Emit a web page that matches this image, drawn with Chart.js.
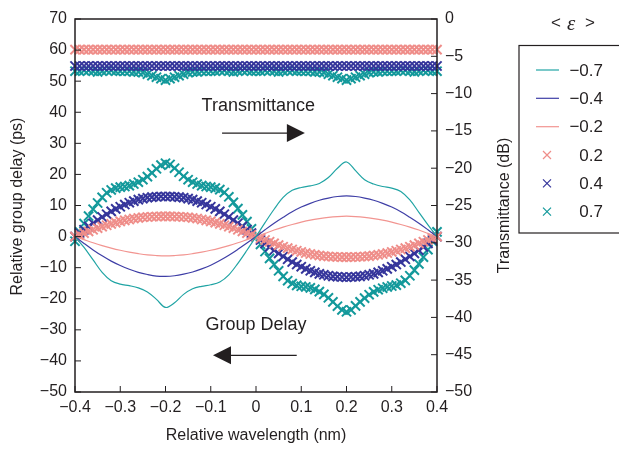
<!DOCTYPE html>
<html>
<head>
<meta charset="utf-8">
<script src="https://cdn.jsdelivr.net/npm/chart.js@4.4.1/dist/chart.umd.min.js"></script>
<style>
  html, body { margin: 0; padding: 0; background: #fff; }
  #mycanvas { display: block; }
</style>
</head>
<body>
<canvas id="mycanvas" width="619" height="449"></canvas>
<script>
// wavelength grid (nm)
const x_fine = [
  -0.40, -0.39, -0.38, -0.37, -0.36, -0.35, -0.34, -0.33, -0.32, -0.31,
  -0.30, -0.29, -0.28, -0.27, -0.26, -0.25, -0.24, -0.23, -0.22, -0.21,
  -0.20, -0.19, -0.18, -0.17, -0.16, -0.15, -0.14, -0.13, -0.12, -0.11,
  -0.10, -0.09, -0.08, -0.07, -0.06, -0.05, -0.04, -0.03, -0.02, -0.01,
  0.00,
  0.01, 0.02, 0.03, 0.04, 0.05, 0.06, 0.07, 0.08, 0.09, 0.10,
  0.11, 0.12, 0.13, 0.14, 0.15, 0.16, 0.17, 0.18, 0.19, 0.20,
  0.21, 0.22, 0.23, 0.24, 0.25, 0.26, 0.27, 0.28, 0.29, 0.30,
  0.31, 0.32, 0.33, 0.34, 0.35, 0.36, 0.37, 0.38, 0.39, 0.40
];
const x_coarse = [
  -0.40, -0.38, -0.36, -0.34, -0.32, -0.30, -0.28, -0.26, -0.24, -0.22,
  -0.20, -0.18, -0.16, -0.14, -0.12, -0.10, -0.08, -0.06, -0.04, -0.02,
  0.00,
  0.02, 0.04, 0.06, 0.08, 0.10, 0.12, 0.14, 0.16, 0.18, 0.20,
  0.22, 0.24, 0.26, 0.28, 0.30, 0.32, 0.34, 0.36, 0.38, 0.40
];

// group delay (ps), negative <eps> drawn as lines
const gd_m07 = [
  0, -3.5, -7.5, -11.5, -14.2, -15.3, -15.8, -16.5, -17.8, -20.2,
  -22.8, -21.3, -18.6, -16.8, -16.0, -15.5, -14.6, -12.3, -8.6, -4.4,
  0,
  4.5, 8.8, 12.6, 14.9, 15.8, 16.3, 17.1, 19.0, 22.0, 24.0,
  21.2, 18.3, 16.9, 16.1, 15.6, 14.5, 11.8, 7.8, 3.8, 0
];
const gd_m04 = [
  0, -2.2, -4.3, -6.2, -7.9, -9.3, -10.5, -11.5, -12.2, -12.7,
  -12.8, -12.6, -12.1, -11.4, -10.4, -9.2, -7.7, -6.0, -4.1, -2.1,
  0,
  2.2, 4.3, 6.2, 8.0, 9.5, 10.7, 11.7, 12.4, 12.9, 13.1,
  12.9, 12.4, 11.7, 10.7, 9.5, 8.0, 6.2, 4.3, 2.2, 0
];
const gd_m02 = [
  0, -1.0, -2.0, -2.9, -3.7, -4.4, -5.0, -5.5, -5.9, -6.1,
  -6.2, -6.1, -5.9, -5.5, -5.0, -4.4, -3.7, -2.9, -2.0, -1.0,
  0,
  1.05, 2.1, 3.05, 3.9, 4.65, 5.3, 5.8, 6.2, 6.45, 6.55,
  6.45, 6.2, 5.8, 5.3, 4.65, 3.9, 3.05, 2.1, 1.05, 0
];

// group delay (ps), positive <eps> drawn as crosses
const gd_p02 = [
  0, 0.55, 1.1, 1.65, 2.2, 2.7, 3.2, 3.65, 4.1, 4.5,
  4.9, 5.2, 5.5, 5.8, 6.0, 6.2, 6.3, 6.4, 6.45, 6.5,
  6.5,
  6.5, 6.45, 6.4, 6.3, 6.2, 6.0, 5.8, 5.5, 5.2, 4.9,
  4.5, 4.1, 3.65, 3.2, 2.7, 2.2, 1.65, 1.1, 0.55, 0,
  -0.55, -1.1, -1.65, -2.2, -2.75, -3.25, -3.7, -4.15, -4.55, -4.95,
  -5.3, -5.6, -5.85, -6.1, -6.3, -6.4, -6.5, -6.55, -6.6, -6.6,
  -6.6, -6.55, -6.5, -6.4, -6.3, -6.1, -5.85, -5.6, -5.3, -4.95,
  -4.55, -4.15, -3.7, -3.25, -2.75, -2.2, -1.65, -1.1, -0.55, 0
];
const gd_p04 = [
  0, 1.1, 2.2, 3.3, 4.3, 5.3, 6.3, 7.2, 8.1, 8.9,
  9.6, 10.3, 10.9, 11.4, 11.9, 12.2, 12.5, 12.7, 12.8, 12.9,
  12.9,
  12.9, 12.8, 12.7, 12.5, 12.2, 11.9, 11.4, 10.9, 10.3, 9.6,
  8.9, 8.1, 7.2, 6.3, 5.3, 4.3, 3.3, 2.2, 1.1, 0,
  -1.1, -2.2, -3.3, -4.4, -5.4, -6.4, -7.3, -8.2, -9.0, -9.7,
  -10.4, -11.0, -11.5, -12.0, -12.3, -12.6, -12.8, -12.9, -13.0, -13.1,
  -13.0, -12.9, -12.8, -12.6, -12.3, -12.0, -11.5, -11.0, -10.4, -9.7,
  -9.0, -8.2, -7.3, -6.4, -5.4, -4.4, -3.3, -2.2, -1.1, 0
];
const gd_p07 = [
  -1.5, 1.5, 4.2, 6.6, 8.8, 10.8, 12.6, 14.1, 15.0, 15.6,
  15.9, 16.1, 16.4, 16.9, 17.5, 18.3, 19.3, 20.5, 21.8, 23.0,
  23.6,
  23.2, 22.0, 20.7, 19.4, 18.3, 17.5, 16.9, 16.4, 16.1, 15.9,
  15.6, 15.1, 14.2, 12.8, 11.0, 9.0, 7.0, 4.8, 2.5, 0,
  -2.5, -4.8, -7.0, -9.0, -11.0, -12.8, -14.2, -15.1, -15.7, -16.0,
  -16.2, -16.5, -17.0, -17.7, -18.6, -19.7, -21.0, -22.4, -23.6, -24.2,
  -23.6, -22.3, -21.0, -19.8, -18.7, -17.8, -17.1, -16.6, -16.2, -15.9,
  -15.6, -15.0, -14.1, -12.6, -10.8, -8.8, -6.6, -4.2, -1.5, 1.5
];

// transmittance (dB)
const tr_02 = [
  -4.1, -4.1, -4.1, -4.1, -4.1, -4.1, -4.1, -4.1, -4.1, -4.1,
  -4.1, -4.1, -4.1, -4.1, -4.1, -4.1, -4.1, -4.1, -4.1, -4.1,
  -4.1, -4.1, -4.1, -4.1, -4.1, -4.1, -4.1, -4.1, -4.1, -4.1,
  -4.1, -4.1, -4.1, -4.1, -4.1, -4.1, -4.1, -4.1, -4.1, -4.1,
  -4.1,
  -4.1, -4.1, -4.1, -4.1, -4.1, -4.1, -4.1, -4.1, -4.1, -4.1,
  -4.1, -4.1, -4.1, -4.1, -4.1, -4.1, -4.1, -4.1, -4.1, -4.1,
  -4.1, -4.1, -4.1, -4.1, -4.1, -4.1, -4.1, -4.1, -4.1, -4.1,
  -4.1, -4.1, -4.1, -4.1, -4.1, -4.1, -4.1, -4.1, -4.1, -4.1
];
const tr_04 = [
  -6.3, -6.3, -6.3, -6.3, -6.3, -6.3, -6.3, -6.3, -6.3, -6.3,
  -6.3, -6.3, -6.3, -6.3, -6.3, -6.3, -6.3, -6.3, -6.3, -6.3,
  -6.3, -6.3, -6.3, -6.3, -6.3, -6.3, -6.3, -6.3, -6.3, -6.3,
  -6.3, -6.3, -6.3, -6.3, -6.3, -6.3, -6.3, -6.3, -6.3, -6.3,
  -6.3,
  -6.3, -6.3, -6.3, -6.3, -6.3, -6.3, -6.3, -6.3, -6.3, -6.3,
  -6.3, -6.3, -6.3, -6.3, -6.3, -6.3, -6.3, -6.3, -6.3, -6.3,
  -6.3, -6.3, -6.3, -6.3, -6.3, -6.3, -6.3, -6.3, -6.3, -6.3,
  -6.3, -6.3, -6.3, -6.3, -6.3, -6.3, -6.3, -6.3, -6.3, -6.3
];
const tr_07 = [
  -7.0, -7.0, -6.9, -6.9, -7.0, -7.1, -7.0, -6.9, -6.9, -7.0,
  -7.0, -7.0, -7.0, -7.1, -7.1, -7.2, -7.4, -7.6, -7.8, -8.0,
  -8.2,
  -8.0, -7.8, -7.6, -7.4, -7.2, -7.1, -7.1, -7.0, -7.0, -7.0,
  -7.0, -6.9, -6.9, -7.0, -7.1, -7.0, -6.9, -6.9, -7.0, -7.0,
  -7.0, -6.9, -6.9, -7.0, -7.1, -7.0, -6.9, -6.9, -7.0, -7.0,
  -7.0, -7.0, -7.1, -7.1, -7.2, -7.4, -7.6, -7.8, -8.0, -8.2,
  -8.0, -7.8, -7.6, -7.4, -7.2, -7.1, -7.1, -7.0, -7.0, -7.0,
  -7.0, -6.9, -6.9, -7.0, -7.1, -7.0, -6.9, -6.9, -7.0, -7.0
];

const legend_labels = ['\u22120.7', '\u22120.4', '\u22120.2', '0.2', '0.4', '0.7'];

const ink = '#231f20';
const teal = '#13999b';
const blue = '#35359b';
const pink = '#ef8d89';
const tealLine = '#20a4a4';
const blueLine = '#3e3ea6';
const pinkLine = '#f29591';

const pts = (xs, ys) => xs.map((x, i) => ({ x: x, y: ys[i] }));
const fmt = v => {
    const r = Math.round(v * 10) / 10;
    return r === 0 ? '0' : String(r).replace('-', '\u2212');
};

function lineSet(data, color) {
    return {
        type: 'line', data: pts(x_coarse, data), yAxisID: 'y',
        borderColor: color, borderWidth: 1.2, pointRadius: 0, tension: 0.35, fill: false
    };
}
function crossSet(data, color, axis) {
    return {
        type: 'line', data: pts(x_fine, data), yAxisID: axis,
        showLine: false, pointStyle: 'crossRot', pointRadius: 6.5,
        borderColor: color, pointBorderColor: color, pointBorderWidth: 2,
        backgroundColor: color, clip: false
    };
}

const overlay = {
    id: 'overlay',
    afterDraw(chart) {
        const { ctx, chartArea: a, scales } = chart;
        const x = scales.x, y = scales.y, y2 = scales.y2;
        ctx.save();
        ctx.strokeStyle = ink;
        ctx.fillStyle = ink;

        // frame
        ctx.lineWidth = 1.5;
        ctx.strokeRect(a.left, a.top, a.right - a.left, a.bottom - a.top);

        // inward tick marks
        ctx.lineWidth = 1;
        ctx.beginPath();
        x.ticks.forEach(t => {
            const px = x.getPixelForValue(t.value);
            ctx.moveTo(px, a.bottom); ctx.lineTo(px, a.bottom - 6);
        });
        y.ticks.forEach(t => {
            const py = y.getPixelForValue(t.value);
            ctx.moveTo(a.left, py); ctx.lineTo(a.left + 6, py);
        });
        y2.ticks.forEach(t => {
            const py = y2.getPixelForValue(t.value);
            ctx.moveTo(a.right, py); ctx.lineTo(a.right - 6, py);
        });
        ctx.stroke();

        // axis titles
        ctx.font = '16px "Liberation Sans", Arial, sans-serif';
        ctx.textAlign = 'center';
        ctx.textBaseline = 'middle';
        ctx.fillText('Relative wavelength (nm)', (a.left + a.right) / 2, 436);
        ctx.save();
        ctx.translate(18, (a.top + a.bottom) / 2 + 1);
        ctx.rotate(-Math.PI / 2);
        ctx.fillText('Relative group delay (ps)', 0, 0);
        ctx.restore();
        ctx.save();
        ctx.translate(505, (a.top + a.bottom) / 2);
        ctx.rotate(-Math.PI / 2);
        ctx.fillText('Transmittance (dB)', 0, 0);
        ctx.restore();

        // annotations with arrows
        ctx.font = '18px "Liberation Sans", Arial, sans-serif';
        ctx.fillText('Transmittance', x.getPixelForValue(0.005), y.getPixelForValue(42));
        ctx.fillText('Group Delay', x.getPixelForValue(0.0), y.getPixelForValue(-28.5));
        const arrow = (x0, x1, yv) => {
            const p0 = x.getPixelForValue(x0), p1 = x.getPixelForValue(x1);
            const py = y.getPixelForValue(yv);
            const dir = Math.sign(p1 - p0);
            ctx.lineWidth = 1.2;
            ctx.beginPath();
            ctx.moveTo(p0, py); ctx.lineTo(p1 - dir * 10, py);
            ctx.stroke();
            ctx.beginPath();
            ctx.moveTo(p1, py);
            ctx.lineTo(p1 - dir * 18, py - 9);
            ctx.lineTo(p1 - dir * 18, py + 9);
            ctx.closePath();
            ctx.fill();
        };
        arrow(-0.075, 0.108, 33.3);
        arrow(0.09, -0.095, -38.2);

        // legend
        ctx.lineWidth = 1.2;
        ctx.strokeRect(519, 45.5, 110, 187.5);
        const rowY = [70, 98.3, 126.7, 155, 183.3, 211.7];
        const rowColor = [tealLine, blueLine, pinkLine, pink, blue, teal];
        ctx.font = '17px "Liberation Sans", Arial, sans-serif';
        ctx.textAlign = 'right';
        rowY.forEach((ry, i) => {
            ctx.strokeStyle = rowColor[i];
            ctx.beginPath();
            if (i < 3) {
                ctx.moveTo(536, ry); ctx.lineTo(559, ry);
            } else {
                ctx.moveTo(543, ry - 4); ctx.lineTo(551, ry + 4);
                ctx.moveTo(543, ry + 4); ctx.lineTo(551, ry - 4);
            }
            ctx.stroke();
            ctx.fillStyle = ink;
            ctx.fillText(legend_labels[i], 603, ry + 1);
        });

        // legend title < eps >
        ctx.textAlign = 'left';
        ctx.fillStyle = ink;
        ctx.font = '17px "Liberation Sans", Arial, sans-serif';
        ctx.fillText('<', 551, 23);
        ctx.fillText('>', 585, 23);
        ctx.font = 'italic 21px "Liberation Serif", "DejaVu Serif", serif';
        ctx.fillText('\u03b5', 567, 24);
        ctx.restore();
    }
};

const mycanvas = document.getElementById('mycanvas').getContext('2d');
const chart = new Chart(mycanvas, {
    data: {
        datasets: [
            lineSet(gd_m07, tealLine),
            lineSet(gd_m04, blueLine),
            lineSet(gd_m02, pinkLine),
            crossSet(gd_p02, pink, 'y'),
            crossSet(gd_p04, blue, 'y'),
            crossSet(gd_p07, teal, 'y'),
            crossSet(tr_02, pink, 'y2'),
            crossSet(tr_04, blue, 'y2'),
            crossSet(tr_07, teal, 'y2')
        ]
    },
    options: {
        responsive: false,
        animation: false,
        devicePixelRatio: 1,
        events: [],
        layout: { padding: { top: 19, left: 0, right: 0, bottom: 0 } },
        plugins: {
            legend: { display: false },
            tooltip: { enabled: false }
        },
        scales: {
            x: {
                type: 'linear', min: -0.4, max: 0.4,
                grid: { display: false, drawTicks: false },
                border: { display: false },
                ticks: {
                    stepSize: 0.1, padding: 6, color: ink, maxRotation: 0,
                    font: { family: 'Liberation Sans', size: 16 },
                    callback: v => fmt(v)
                },
                afterFit: s => { s.height = 57; }
            },
            y: {
                type: 'linear', position: 'left', min: -50, max: 70,
                grid: { display: false, drawTicks: false },
                border: { display: false },
                ticks: {
                    stepSize: 10, padding: 8, color: ink,
                    font: { family: 'Liberation Sans', size: 16 },
                    callback: v => fmt(v)
                },
                afterFit: s => { s.width = 75; }
            },
            y2: {
                type: 'linear', position: 'right', min: -50, max: 0,
                grid: { display: false, drawTicks: false },
                border: { display: false },
                ticks: {
                    stepSize: 5, padding: 8, color: ink,
                    font: { family: 'Liberation Sans', size: 16 },
                    callback: v => fmt(v)
                },
                afterFit: s => { s.width = 182; }
            }
        }
    },
    plugins: [overlay]
});
</script>
</body>
</html>
